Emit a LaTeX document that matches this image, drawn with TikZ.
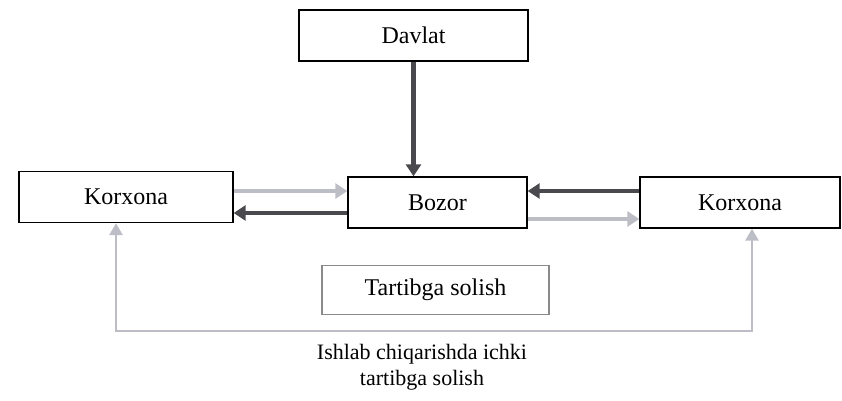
\documentclass[tikz,border=0pt]{standalone}
\usepackage{fontspec}
\setmainfont{Liberation Serif}
\usetikzlibrary{arrows.meta}
\definecolor{lightarr}{HTML}{BDBDC6}
\definecolor{darkarr}{HTML}{4A4A4E}
\definecolor{boxgray}{HTML}{8A8A8A}
\begin{document}
\begin{tikzpicture}[x=1pt,y=-1pt,
  every node/.style={font=\fontsize{24}{29}\selectfont},
  blk/.style={draw=black, line width=1.4pt, fill=white, inner sep=0pt},
  darr/.style={draw=darkarr, line width=4.5pt, -{Triangle[width=15pt,length=12pt]}},
  larr/.style={draw=lightarr, line width=4.5pt, -{Triangle[width=15pt,length=12pt]}},
  fb/.style={draw=lightarr, line width=2.8pt, {Triangle[width=13pt,length=12pt]}-{Triangle[width=13pt,length=12pt]}}]
\useasboundingbox (0,0) rectangle (842,400);
\node[blk, minimum width=229pt, minimum height=51pt] (dv) at (413.5,35.5) {Davlat};
\node[blk, minimum width=214pt, minimum height=51pt] (lk) at (126,197) {Korxona};
\node[blk, minimum width=179pt, minimum height=51pt] (bz) at (437.5,202.5) {Bozor};
\node[blk, minimum width=200pt, minimum height=51pt] (rk) at (740,202.5) {Korxona};
\node[draw=boxgray, line width=1.8pt, minimum width=227pt, minimum height=49pt, inner sep=0pt] (ts) at (435.5,290) {Tartibga solish};
\node[align=center, font=\fontsize{22}{26}\selectfont] (lbl) at (422,367) {Ishlab chiqarishda ichki\\tartibga solish};
\draw[darr] (dv.south) -- (dv.south |- bz.north);
\draw[larr] (lk.east |- 0,191) -- (bz.west |- 0,191);
\draw[darr] (bz.west |- 0,213) -- (lk.east |- 0,213);
\draw[darr] (rk.west |- 0,191) -- (bz.east |- 0,191);
\draw[larr] (bz.east |- 0,219) -- (rk.west |- 0,219);
\coordinate (fl) at (116,331);
\coordinate (fr) at (752,331);
\draw[fb] (lk.south -| fl) -- (fl) -- (fr) -- (rk.south -| fr);
\end{tikzpicture}
\end{document}
